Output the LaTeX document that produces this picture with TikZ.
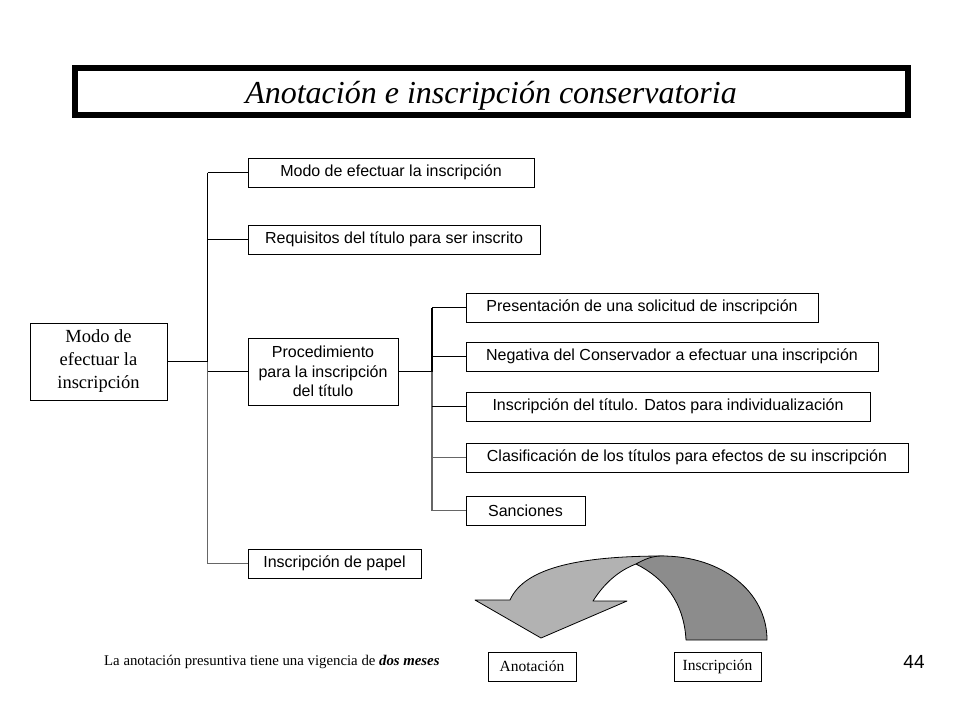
\documentclass[tikz,border=0pt]{standalone}
\usepackage{fontspec}
\setmainfont{Liberation Serif}
\newfontfamily\arialf{Liberation Sans}
\begin{document}
\begin{tikzpicture}[x=1pt,y=-1pt,
  box/.style={draw,line width=1pt,inner sep=0pt,align=center,
    font=\arialf\fontsize{16}{19.5}\selectfont,minimum height=29pt},
  sbox/.style={draw,line width=1pt,inner sep=0pt,align=center,
    font=\fontsize{15.5}{17}\selectfont,minimum height=29pt},
  conn/.style={line width=1.4pt,black},
  gconn/.style={line width=1.4pt,black!60},
  arrowpart/.style={draw=black,line width=0.8pt,line join=round}]
\useasboundingbox (0,0) rectangle (960,720);
\fill[white] (0,0) rectangle (960,720);
% title
\draw[line width=6pt] (75,68) rectangle (908,115);
\node[anchor=base,inner sep=0pt,font=\itshape\fontsize{32}{36}\selectfont] (title) at (491,103) {Anotación e inscripción conservatoria};
% root
\node[draw,line width=1pt,inner sep=0pt,align=center,minimum width=137pt,minimum height=77pt,
  font=\fontsize{18.5}{23}\selectfont] (root) at (98.5,361.5) {Modo de\\efectuar la\\inscripción};
% level 1
\node[box,minimum width=286pt] (m1) at (391,172.5) {Modo de efectuar la inscripción};
\node[box,minimum width=292pt] (m2) at (394,239.5) {Requisitos del título para ser inscrito};
\node[box,minimum width=150pt,minimum height=67pt] (m3) at (323,371.5) {Procedimiento\\para la inscripción\\del título};
\node[box,minimum width=173pt] (m4) at (334.5,563.5) {Inscripción de papel};
% level 2
\node[box,minimum width=352pt] (s1) at (642,307.5) {Presentación de una solicitud de inscripción};
\node[box,minimum width=412pt] (s2) at (672,356.5) {Negativa del Conservador a efectuar una inscripción};
\node[box,minimum width=404pt] (s3) at (668,406.5) {Inscripción del título. Datos para individualización};
\node[box,minimum width=442pt] (s4) at (687,457.5) {Clasificación de los títulos para efectos de su inscripción};
\node[box,minimum width=119pt] (s5) at (525.5,510.5) {Sanciones};
% trunks
\coordinate (t1) at (207.5,0);
\coordinate (t2) at (432,0);
\draw[conn] (m1.west -| t1) -- (root.east -| t1);
\draw[gconn] (root.east -| t1) -- (m4.west -| t1);
\draw[conn] (root.east) -- (root.east -| t1);
\draw[conn] (m1.west -| t1) -- (m1.west);
\draw[conn] (m2.west -| t1) -- (m2.west);
\draw[conn] (m3.west -| t1) -- (m3.west);
\draw[gconn] (m4.west -| t1) -- (m4.west);
\draw[conn] (s1.west -| t2) -- (m3.east -| t2);
\draw[gconn] (m3.east -| t2) -- (s5.west -| t2);
\draw[conn] (m3.east) -- (m3.east -| t2);
\draw[conn] (s1.west -| t2) -- (s1.west);
\draw[conn] (s2.west -| t2) -- (s2.west);
\draw[conn] (s3.west -| t2) -- (s3.west);
\draw[gconn] (s4.west -| t2) -- (s4.west);
\draw[gconn] (s5.west -| t2) -- (s5.west);
% curved arrow
\filldraw[arrowpart,fill=black!30] (510,600) -- (475,600) -- (541,638) -- (627,601) -- (593,601)
  .. controls (605,582) and (620,570) .. (636,564) -- (664,556)
  .. controls (585,556) and (525,566) .. (510,600) -- cycle;
\filldraw[arrowpart,fill=black!45] (636,564) .. controls (645,559) and (652,556) .. (662,556)
  .. controls (722,556) and (767,592) .. (767,640) -- (686,640)
  .. controls (684,602) and (664,578) .. (636,564) -- cycle;
% bottom labels
\node[sbox,minimum width=88pt] (anot) at (532,666.5) {Anotación};
\node[sbox,minimum width=87pt] (insc) at (717.5,666.5) {Inscripción};
\node[anchor=west,inner sep=0pt,font=\fontsize{14.8}{17}\selectfont] (note) at (104,662)
  {La anotación presuntiva tiene una vigencia de \textbf{\textit{dos meses}}};
\node[font=\arialf\fontsize{19}{22}\selectfont,inner sep=0pt] (pg) at (914,662) {44};
\end{tikzpicture}
\end{document}
